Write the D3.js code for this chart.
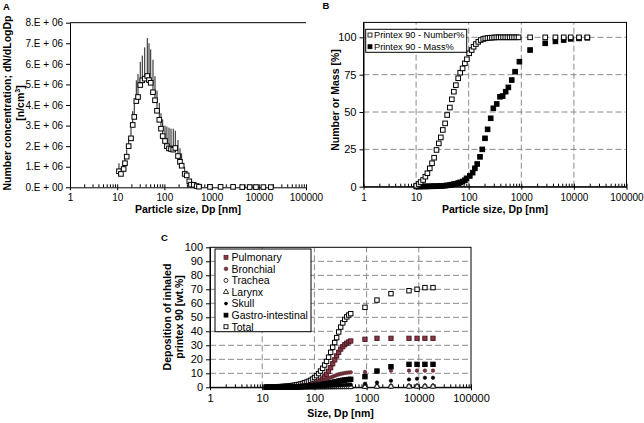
<!DOCTYPE html>
<html><head><meta charset="utf-8">
<script src="https://cdn.jsdelivr.net/npm/d3@7"></script>
<style>
body{margin:0;background:#fff}
svg{display:block}
text{font-family:"Liberation Sans",Arial,Helvetica,sans-serif;fill:#000}
</style>
</head><body>
<svg id="chart" width="644" height="423"></svg>
<script>
// ---------- Panel A: size distribution ----------
const dpA = [10.9,12.0,13.7,14.6,15.9,17.5,19.6,21.3,23.0,25.4,27.6,30.8,34.0,38.3,43.4,47.2,51.3,57.3,63.2,69.7,78.0,84.7,92.0,103,113,125,138,154,170,194,214,232,269,297,337,366,418,483,541,925,1550,2850,4450,6400,8700,12500,18000];
const concA = [0.78,0.65,0.89,1.17,1.49,2.0,2.38,3.03,3.42,4.19,4.39,4.97,5.2,5.28,5.41,5.21,5.08,4.62,4.23,3.72,3.28,2.85,2.49,2.25,2.0,1.89,1.86,1.83,1.91,1.52,1.24,1.05,0.65,0.58,0.29,0.13,0.12,0.06,0.03,0.02,0.02,0.02,0.01,0.01,0.01,0.01,0.01]; // x 1e6
const errTopA = [1.17,0.92,1.25,1.45,1.85,2.4,2.9,3.7,4.1,5.2,5.5,6.1,6.4,6.8,7.25,7.0,6.7,6.2,5.4,4.7,4.1,3.6,3.3,3.0,2.95,2.9,2.85,2.85,2.75,2.3,1.9,1.65,1.0,0.8,0.4,0.2,0.15,0.06,0.03,0.02,0.02,0.02,0.01,0.01,0.01,0.01,0.01]; // x 1e6
const yTicksA = [0,1,2,3,4,5,6,7,8];
const yTickLabelsA = ["0.E + 00","1.E + 06","2.E + 06","3.E + 06","4.E + 06","5.E + 06","6.E + 06","7.E + 06","8.E + 06"];

// ---------- Panel B: cumulative number / mass ----------
const dpNum = [10.1,11.2,12.2,13.6,15.0,16.4,18.2,20.1,22.0,24.4,27.0,29.5,32.2,35.6,38.9,43.8,47.8,52.2,57.0,63.1,68.9,76.5,84.6,92.4,102,114,124,137,152,169,189,207,228,251,277,305,336,370,408,450,496,546,602,663,730,805,887,1470,2850,4450,6400,8700,12500,18000];
const numPct = [0.7,1.8,3.1,4.5,6.7,9,12.3,15.7,19.4,24.6,29,33,38,42.4,48,53,58.5,63.6,68,72.6,76.3,79.2,82.6,85.3,89.3,91.5,93.7,95.5,97,98.2,98.9,99.3,99.5,99.7,99.8,99.9,100,100,100,100,100,100,100,100,100,100,100,100,100,100,100,100,100,100];
const dpMass = [10.1,11.2,12.2,13.6,15.0,16.4,18.2,20.1,22.0,24.4,27.0,29.5,32.2,35.6,38.9,43.8,47.8,52.2,57.0,63.1,68.9,76.5,84.6,91,105,119,131,145,164,181,204,229,262,294,341,394,443,505,568,658,762,920,1470,2850,4450,6400,8700,12500,18000];
const massPct = [0.1,0.1,0.15,0.15,0.2,0.2,0.25,0.3,0.3,0.35,0.4,0.5,0.6,0.7,0.9,1.1,1.4,1.7,2.0,2.4,2.9,3.5,4.3,5.6,7.2,9.4,12.3,15.2,20,25,32.4,38.4,45.8,52.5,55.4,60.2,60.7,63.6,66.5,71.4,77,83.7,91.5,96,97.3,98.2,99,99.3,99.7];
const yTicksB = [0,25,50,75,100];
const legendB = ["Printex 90 - Number%","Printex 90 - Mass%"];

// ---------- Panel C: deposition ----------
const dpC = [12,13.1,14.3,15.6,17.1,18.7,20.4,22.3,24.4,26.6,29.1,31.8,34.7,37.9,41.4,45.3,49.5,54.1,59.1,64.6,70.6,77.1,84.3,92.1,100.6,110,120,131,144,157,171,187,205,224,245,267,292,319,349,381,417,455,497,930,1580,2930,6490,9250,13100,18700];
const pulmonary = [0.05,0.05,0.06,0.07,0.08,0.09,0.1,0.12,0.14,0.16,0.19,0.22,0.26,0.3,0.35,0.42,0.5,0.6,0.72,0.86,1.02,1.22,1.5,1.85,2.3,2.9,3.7,4.7,6.0,7.5,9.3,11.5,14.0,16.8,19.6,22.4,25.0,27.3,29.0,30.4,31.5,32.4,33.1,34.3,35,35,35,35,35,35];
const bronchial = [0.03,0.04,0.05,0.06,0.08,0.1,0.12,0.15,0.19,0.23,0.28,0.34,0.41,0.5,0.6,0.72,0.86,1.0,1.2,1.4,1.6,1.85,2.1,2.4,2.7,3.1,3.5,4.0,4.5,5.1,5.7,6.4,7.0,7.6,8.2,8.7,9.2,9.6,9.9,10.2,10.4,10.6,10.7,11.0,11.6,11.9,11.9,11.9,11.9,11.9];
const trachea = [0.01,0.01,0.01,0.02,0.02,0.02,0.03,0.03,0.04,0.04,0.05,0.06,0.07,0.08,0.09,0.1,0.11,0.12,0.13,0.14,0.15,0.16,0.17,0.18,0.19,0.2,0.21,0.22,0.23,0.24,0.25,0.26,0.27,0.28,0.29,0.3,0.31,0.32,0.33,0.34,0.35,0.36,0.37,0.5,0.7,0.8,0.9,0.9,0.9,0.9];
const larynx = [0.01,0.01,0.01,0.01,0.01,0.02,0.02,0.02,0.02,0.03,0.03,0.03,0.04,0.04,0.05,0.05,0.06,0.06,0.07,0.07,0.08,0.09,0.1,0.1,0.11,0.12,0.13,0.14,0.15,0.16,0.17,0.18,0.19,0.2,0.21,0.22,0.23,0.24,0.24,0.25,0.26,0.27,0.28,0.35,0.45,0.5,0.55,0.55,0.55,0.55];
const skull = [0.02,0.02,0.03,0.03,0.04,0.04,0.05,0.06,0.07,0.08,0.09,0.1,0.12,0.14,0.16,0.18,0.2,0.23,0.26,0.3,0.33,0.37,0.41,0.45,0.5,0.55,0.61,0.67,0.73,0.8,0.88,0.96,1.04,1.12,1.2,1.29,1.38,1.47,1.56,1.65,1.74,1.82,1.9,2.5,3.4,4.7,5.6,6.1,6.8,6.8];
const gastro = [0.05,0.05,0.06,0.07,0.08,0.09,0.1,0.11,0.13,0.15,0.17,0.2,0.23,0.27,0.31,0.36,0.42,0.49,0.57,0.66,0.76,0.87,1.0,1.15,1.3,1.5,1.7,1.9,2.15,2.4,2.65,2.9,3.2,3.5,3.8,4.1,4.4,4.7,5.0,5.2,5.4,5.6,5.7,7.6,11.6,14.7,16.4,16.4,16.4,16.4];
const total = [0.2,0.2,0.25,0.3,0.35,0.4,0.45,0.5,0.6,0.7,0.8,0.95,1.1,1.3,1.5,1.75,2.0,2.35,2.75,3.2,3.7,4.3,5.0,5.9,7.0,8.3,9.8,11.6,13.6,15.9,18.5,21.5,25,28.6,32,35.5,39.5,43,46,48.5,50.3,51.6,52.6,57.1,62.3,66.9,69.0,70.0,71.2,71.2];
const seriesNamesC = ["Pulmonary","Bronchial","Trachea","Larynx","Skull","Gastro-intestinal","Total"];
const yTicksC = [0,10,20,30,40,50,60,70,80,90,100];

const decades = [1,10,100,1000,10000,100000];

// ---------- helpers ----------
const svg = d3.select("#chart");
const minorTicks = [];
for (let e = 0; e < 5; e++) for (let m = 1; m <= 9; m++) minorTicks.push(m * Math.pow(10, e));
minorTicks.push(100000);

function logXAxis(g, x, y0, fs, pad) {
  g.append("g").attr("transform", `translate(0,${y0})`)
    .call(d3.axisBottom(x).tickValues(minorTicks).tickSizeInner(-3).tickSizeOuter(0).tickFormat(""))
    .call(a => a.select(".domain").attr("stroke", "#000"))
    .call(a => a.selectAll("line").attr("stroke", "#000"));
  g.append("g").attr("transform", `translate(0,${y0})`)
    .call(d3.axisBottom(x).tickValues(decades).tickSizeInner(3).tickSizeOuter(0).tickPadding(pad).tickFormat(d3.format("d")))
    .call(a => a.select(".domain").remove())
    .call(a => a.selectAll("line").attr("stroke", "#000"))
    .call(a => a.selectAll("text").attr("font-size", fs).attr("font-family", "Liberation Sans, Arial, sans-serif").attr("fill", "#000"));
}
function linYAxis(g, y, x0, ticks, fmt, fs) {
  g.append("g").attr("transform", `translate(${x0},0)`)
    .call(d3.axisLeft(y).tickValues(ticks).tickSizeInner(4).tickSizeOuter(0).tickPadding(3).tickFormat(fmt))
    .call(a => a.select(".domain").attr("stroke", "#000"))
    .call(a => a.selectAll("line").attr("stroke", "#000"))
    .call(a => a.selectAll("text").attr("font-size", fs).attr("font-family", "Liberation Sans, Arial, sans-serif").attr("fill", "#000"));
}
function sq(g, data, x, y, size, fill, stroke) {
  g.append("g").selectAll("rect").data(data).join("rect")
    .attr("x", d => x(d[0]) - size / 2).attr("y", d => y(d[1]) - size / 2)
    .attr("width", size).attr("height", size)
    .attr("fill", fill).attr("stroke", stroke).attr("stroke-width", 1);
}
function dots(g, data, x, y, r, fill, stroke, sw) {
  g.append("g").selectAll("circle").data(data).join("circle")
    .attr("cx", d => x(d[0])).attr("cy", d => y(d[1])).attr("r", r)
    .attr("fill", fill).attr("stroke", stroke).attr("stroke-width", sw);
}
function tris(g, data, x, y, size, fill, stroke) {
  const sym = d3.symbol().type(d3.symbolTriangle).size(size);
  g.append("g").selectAll("path").data(data).join("path")
    .attr("transform", d => `translate(${x(d[0])},${y(d[1])})`)
    .attr("d", sym).attr("fill", fill).attr("stroke", stroke).attr("stroke-width", 0.8);
}
const zip = (a, b) => a.map((v, i) => [v, b[i]]);

// ================= Panel A =================
{
  const g = svg.append("g");
  const x = d3.scaleLog().domain([1, 100000]).range([70, 306]);
  const y = d3.scaleLinear().domain([0, 8]).range([187.3, 22.7]);
  g.append("line").attr("x1", x(1)).attr("x2", x(100000)).attr("y1", y(8)).attr("y2", y(8)).attr("stroke", "#000");
  linYAxis(g, y, x(1), yTicksA, (d, i) => yTickLabelsA[i], 10);
  logXAxis(g, x, y(0), 10, 4);
  g.append("g").selectAll("line").data(dpA.map((d, i) => [d, concA[i], errTopA[i]])).join("line")
    .attr("x1", d => x(d[0])).attr("x2", d => x(d[0]))
    .attr("y1", d => y(d[1])).attr("y2", d => y(d[2]))
    .attr("stroke", "#000").attr("stroke-width", 0.9);
  sq(g, zip(dpA, concA), x, y, 4.6, "#fff", "#000");
  g.append("text").attr("x", 3).attr("y", 10).attr("font-size", 9.5).attr("font-weight", "bold").text("A");
  g.append("text").attr("x", x(316.2)).attr("y", 213).attr("text-anchor", "middle").attr("font-size", 10.5).attr("font-weight", "bold").text("Particle size, Dp [nm]");
  const t = g.append("text").attr("transform", "translate(0,103) rotate(-90)").attr("text-anchor", "middle").attr("font-size", 10.5).attr("font-weight", "bold");
  t.append("tspan").attr("x", 0).attr("y", 11).text("Number concentration; dN/dLogDp");
  const t2 = t.append("tspan").attr("x", 0).attr("y", 23.5).text("[n/cm");
  t2.append("tspan").attr("dy", -4).attr("font-size", 7).text("3");
  t.append("tspan").attr("dy", 4).text("]");
}

// ================= Panel B =================
{
  const g = svg.append("g");
  const x = d3.scaleLog().domain([1, 100000]).range([363.5, 626.5]);
  const y = d3.scaleLinear().domain([0, 110]).range([186.7, 22.4]);
  g.append("g").selectAll("line").data(yTicksB.filter(d => d > 0)).join("line")
    .attr("x1", x(1)).attr("x2", x(100000)).attr("y1", d => y(d)).attr("y2", d => y(d))
    .attr("stroke", "#8a8a8a").attr("stroke-dasharray", "6,3");
  g.append("g").selectAll("line").data(decades.slice(1, 5)).join("line")
    .attr("x1", d => x(d)).attr("x2", d => x(d)).attr("y1", y(0)).attr("y2", y(110))
    .attr("stroke", "#8a8a8a").attr("stroke-dasharray", "6,3");
  g.append("rect").attr("x", x(1)).attr("y", y(110)).attr("width", x(100000) - x(1)).attr("height", y(0) - y(110))
    .attr("fill", "none").attr("stroke", "#000");
  linYAxis(g, y, x(1), yTicksB, d3.format("d"), 11);
  logXAxis(g, x, y(0), 10, 4);
  sq(g, zip(dpMass, massPct), x, y, 4.6, "#000", "#000");
  sq(g, zip(dpNum, numPct), x, y, 4.6, "#fff", "#000");
  const lg = g.append("g");
  lg.append("rect").attr("x", 365.7).attr("y", 29.3).attr("width", 101).attr("height", 23).attr("fill", "#fff").attr("stroke", "#000");
  lg.append("rect").attr("x", 368).attr("y", 33).attr("width", 4).attr("height", 4).attr("fill", "#fff").attr("stroke", "#000").attr("stroke-width", 0.8);
  lg.append("rect").attr("x", 368).attr("y", 44.7).attr("width", 4).attr("height", 4).attr("fill", "#000").attr("stroke", "#000").attr("stroke-width", 0.8);
  lg.append("text").attr("x", 374).attr("y", 38.3).attr("font-size", 9.2).text(legendB[0]);
  lg.append("text").attr("x", 374).attr("y", 50).attr("font-size", 9.2).text(legendB[1]);
  g.append("text").attr("x", 322.5).attr("y", 9).attr("font-size", 9.5).attr("font-weight", "bold").text("B");
  g.append("text").attr("x", x(316.2)).attr("y", 213).attr("text-anchor", "middle").attr("font-size", 10.5).attr("font-weight", "bold").text("Particle size, Dp [nm]");
  g.append("text").attr("transform", "translate(339,100) rotate(-90)").attr("text-anchor", "middle").attr("font-size", 10.5).attr("font-weight", "bold").text("Number or Mass [%]");
}

// ================= Panel C =================
{
  const g = svg.append("g");
  const x = d3.scaleLog().domain([1, 100000]).range([210, 471]);
  const y = d3.scaleLinear().domain([0, 100]).range([387.3, 247.3]);
  g.append("g").selectAll("line").data(yTicksC.filter(d => d > 0 && d < 100)).join("line")
    .attr("x1", x(1)).attr("x2", x(100000)).attr("y1", d => y(d)).attr("y2", d => y(d))
    .attr("stroke", "#8a8a8a").attr("stroke-dasharray", "6,3");
  g.append("g").selectAll("line").data(decades.slice(1, 5)).join("line")
    .attr("x1", d => x(d)).attr("x2", d => x(d)).attr("y1", y(0)).attr("y2", y(100))
    .attr("stroke", "#8a8a8a").attr("stroke-dasharray", "6,3");
  g.append("rect").attr("x", x(1)).attr("y", y(100)).attr("width", x(100000) - x(1)).attr("height", y(0) - y(100))
    .attr("fill", "none").attr("stroke", "#000");
  linYAxis(g, y, x(1), yTicksC, d3.format("d"), 11);
  logXAxis(g, x, y(0), 11, 4);

  const maroon = "#8e3a47", maroonDark = "#4a1a22";
  sq(g, zip(dpC, total), x, y, 4.4, "#fff", "#000");
  sq(g, zip(dpC, pulmonary), x, y, 4.2, maroon, maroonDark);
  dots(g, zip(dpC, bronchial), x, y, 1.8, "#7a3640", "#4a1a22", 0.5);
  dots(g, zip(dpC, trachea), x, y, 2.1, "#fff", "#000", 0.9);
  tris(g, zip(dpC, larynx), x, y, 12, "#fff", "#000");
  dots(g, zip(dpC, skull), x, y, 1.8, "#000", "#000", 0.5);
  sq(g, zip(dpC, gastro), x, y, 4.4, "#000", "#000");

  const lg = g.append("g");
  lg.append("rect").attr("x", 215).attr("y", 249).attr("width", 96).attr("height", 82.7).attr("fill", "#fff").attr("stroke", "#000");
  const rowY = i => 257.3 + i * 11.57;
  const mx = 226;
  lg.append("rect").attr("x", mx - 2).attr("y", rowY(0) - 2).attr("width", 4).attr("height", 4).attr("fill", maroon).attr("stroke", maroonDark).attr("stroke-width", 0.7);
  lg.append("circle").attr("cx", mx).attr("cy", rowY(1)).attr("r", 1.9).attr("fill", "#7a3640").attr("stroke", "#4a1a22").attr("stroke-width", 0.5);
  lg.append("circle").attr("cx", mx).attr("cy", rowY(2)).attr("r", 2).attr("fill", "#fff").attr("stroke", "#000").attr("stroke-width", 0.8);
  lg.append("path").attr("transform", `translate(${mx},${rowY(3)})`).attr("d", d3.symbol().type(d3.symbolTriangle).size(12)).attr("fill", "#fff").attr("stroke", "#000").attr("stroke-width", 0.8);
  lg.append("circle").attr("cx", mx).attr("cy", rowY(4)).attr("r", 1.8).attr("fill", "#000");
  lg.append("rect").attr("x", mx - 2).attr("y", rowY(5) - 2).attr("width", 4).attr("height", 4).attr("fill", "#000").attr("stroke", "#000").attr("stroke-width", 0.7);
  lg.append("rect").attr("x", mx - 2).attr("y", rowY(6) - 2).attr("width", 4).attr("height", 4).attr("fill", "#fff").attr("stroke", "#000").attr("stroke-width", 0.9);
  lg.selectAll("text.lab").data(seriesNamesC).join("text").attr("class", "lab")
    .attr("x", 231.5).attr("y", (d, i) => rowY(i) + 3.8).attr("font-size", 10.5).text(d => d);

  g.append("text").attr("x", 161).attr("y", 241).attr("font-size", 9.5).attr("font-weight", "bold").text("C");
  g.append("text").attr("x", x(316.2)).attr("y", 417).attr("text-anchor", "middle").attr("font-size", 10.5).attr("font-weight", "bold").text("Size, Dp [nm]");
  const t = g.append("text").attr("transform", "translate(0,317) rotate(-90)").attr("text-anchor", "middle").attr("font-size", 10.5).attr("font-weight", "bold");
  t.append("tspan").attr("x", 0).attr("y", 171).text("Deposition  of inhaled");
  t.append("tspan").attr("x", 0).attr("y", 183).text("printex 90 [wt.%]");
}
</script>
</body></html>
